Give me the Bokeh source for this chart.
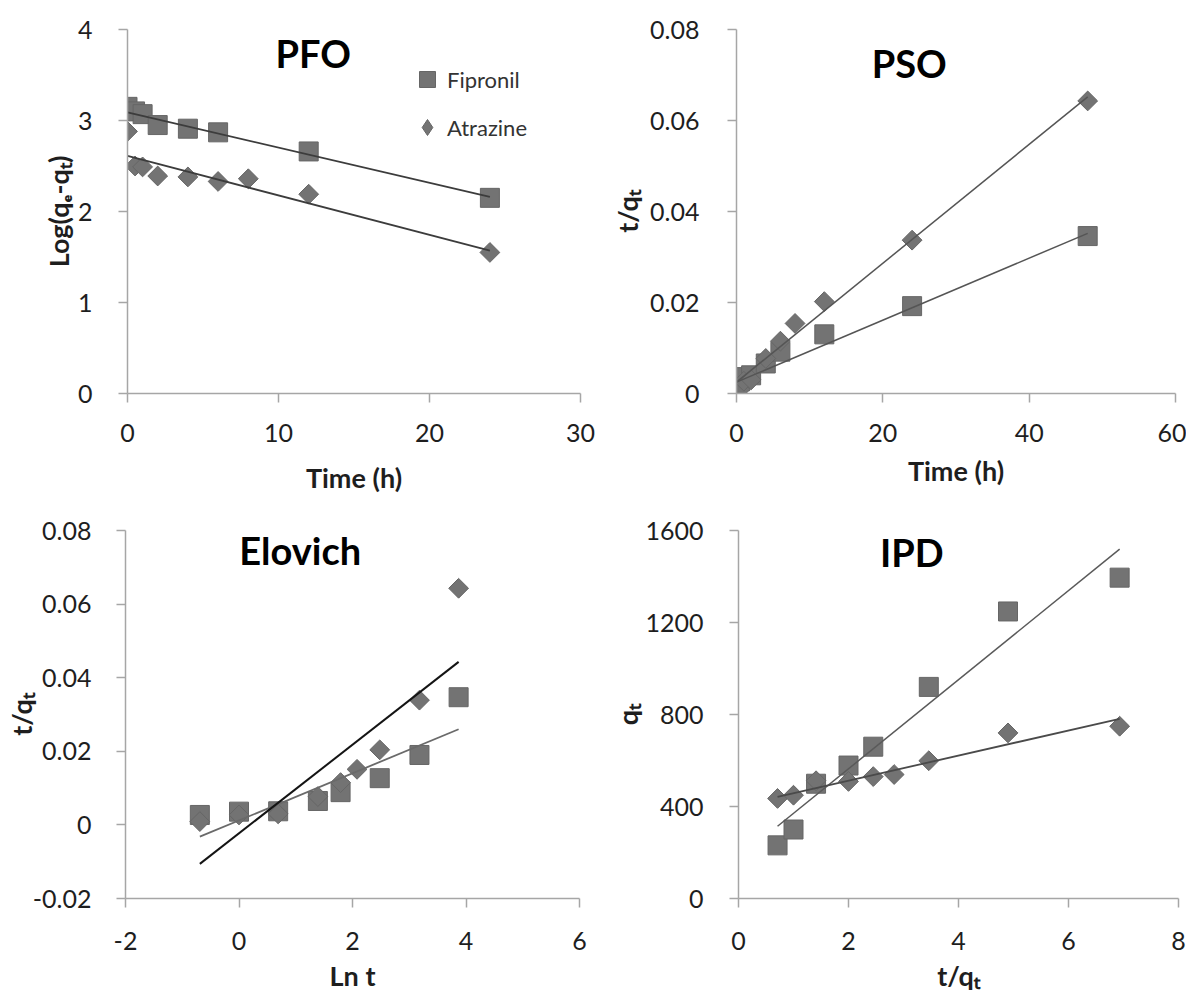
import math
from bokeh.plotting import figure
from bokeh.models import Range1d, FixedTicker, Label, Legend, LegendItem, CustomJSTickFormatter
from bokeh.layouts import column, row
from bokeh.embed import file_html
from bokeh.resources import INLINE

# ---------------- data ----------------
# PFO : Log(qe-qt) vs time (h)
pfo_t_fip = [0, 0.5, 1, 2, 4, 6, 12, 24]
pfo_fip = [3.15, 3.10, 3.07, 2.95, 2.91, 2.87, 2.66, 2.15]
pfo_t_atr = [0, 0.5, 1, 2, 4, 6, 8, 12, 24]
pfo_atr = [2.88, 2.50, 2.49, 2.39, 2.38, 2.33, 2.36, 2.19, 1.55]
pfo_fit_x = [0, 24]
pfo_fit_fip = [3.09, 2.16]
pfo_fit_atr = [2.61, 1.57]

# PSO : t/qt vs time (h)
pso_t_fip = [0, 0.5, 1, 2, 4, 6, 12, 24, 48]
pso_fip = [0.0, 0.0027, 0.0036, 0.0040, 0.0066, 0.0092, 0.0130, 0.0192, 0.0346]
pso_t_atr = [0, 0.5, 1, 2, 4, 6, 8, 12, 24, 48]
pso_atr = [0.0, 0.0009, 0.0027, 0.0030, 0.0077, 0.0115, 0.0154, 0.0202, 0.0337, 0.0643]
pso_fit_x = [0, 48]
pso_fit_fip = [0.0025, 0.0352]
pso_fit_atr = [0.0025, 0.0652]

# Elovich : t/qt vs ln t
elo_x_fip = [-0.69, 0.0, 0.69, 1.39, 1.79, 2.48, 3.18, 3.87]
elo_fip = [0.0027, 0.0036, 0.0037, 0.0065, 0.0089, 0.0127, 0.0190, 0.0347]
elo_x_atr = [-0.69, 0.0, 0.69, 1.39, 1.79, 2.08, 2.48, 3.18, 3.87]
elo_atr = [0.0009, 0.0027, 0.0030, 0.0077, 0.0115, 0.0151, 0.0204, 0.0339, 0.0643]
elo_fit_x = [-0.69, 3.87]
elo_fit_fip = [-0.0032, 0.0260]
elo_fit_atr = [-0.0106, 0.0443]

# IPD : qt vs t^0.5
ipd_x_fip = [0.71, 1.0, 1.41, 2.0, 2.45, 3.46, 4.90, 6.93]
ipd_fip = [231, 300, 499, 578, 660, 920, 1248, 1395]
ipd_x_atr = [0.71, 1.0, 1.41, 2.0, 2.45, 2.83, 3.46, 4.90, 6.93]
ipd_atr = [435, 449, 512, 509, 530, 539, 599, 720, 749]
ipd_fit_x = [0.71, 6.93]
ipd_fit_fip = [314, 1519]
ipd_fit_atr = [442, 781]

series_names = ["Fipronil", "Atrazine"]

# ---------------- styling ----------------
FONT = "Lato"
AXIS_COLOR = "#a6a6a6"
TEXT_COLOR = "#1e1e1e"
MARK_FILL = "#737373"
MARK_LINE = "#666666"

fmt = CustomJSTickFormatter(code="return String(Math.round(tick*10000)/10000);")


def make_fig(w, h, xr, yr, xticks, yticks, bl, br, bt, bb, xlabel, ylabel,
             xl_std, xt_std, yl_std, yt_std):
    p = figure(width=w, height=h, x_range=Range1d(*xr), y_range=Range1d(*yr),
               output_backend="svg", toolbar_location=None,
               min_border_left=bl, min_border_right=br,
               min_border_top=bt, min_border_bottom=bb)
    p.grid.visible = False
    p.outline_line_color = None
    p.background_fill_color = "white"
    p.border_fill_color = "white"
    p.xaxis.ticker = FixedTicker(ticks=xticks)
    p.yaxis.ticker = FixedTicker(ticks=yticks)
    p.yaxis.formatter = fmt
    p.xaxis.formatter = fmt
    p.xaxis.axis_label = xlabel
    p.yaxis.axis_label = ylabel
    for ax in (p.xaxis[0], p.yaxis[0]):
        ax.axis_line_color = AXIS_COLOR
        ax.axis_line_width = 1.5
        ax.major_tick_line_color = AXIS_COLOR
        ax.major_tick_line_width = 1.5
        ax.major_tick_out = 9
        ax.major_tick_in = 0
        ax.minor_tick_line_color = None
        ax.major_label_text_font = FONT
        ax.major_label_text_font_size = "25px"
        ax.major_label_text_color = TEXT_COLOR
        ax.axis_label_text_font = FONT
        ax.axis_label_text_font_style = "bold"
        ax.axis_label_text_font_size = "27px"
        ax.axis_label_text_color = TEXT_COLOR
    p.xaxis.major_label_standoff = xl_std
    p.xaxis.axis_label_standoff = xt_std
    p.yaxis.major_label_standoff = yl_std
    p.yaxis.axis_label_standoff = yt_std
    return p


def add_series(p, xf, yf, xa, ya, fx, ffy, fay, fip_line, atr_line, lw_f, lw_a):
    rf = p.scatter(xf, yf, marker="square", size=19, fill_color=MARK_FILL,
                   line_color=MARK_LINE, line_width=1)
    ra = p.scatter(xa, ya, marker="square", angle=math.pi / 4, size=14,
                   fill_color=MARK_FILL, line_color=MARK_LINE, line_width=1)
    p.line(fx, ffy, line_color=fip_line, line_width=lw_f)
    p.line(fx, fay, line_color=atr_line, line_width=lw_a)
    return rf, ra


def add_title(p, x, y, text):
    p.add_layout(Label(x=x, y=y, text=text, text_font=FONT, text_font_size="38px",
                       text_font_style="bold", text_color="black",
                       text_align="center", text_baseline="middle"))


NAN = float("nan")

# PFO (top-left): frame x 127..580, y 28..394
p1 = make_fig(608, 508, (0, 30), (0, 4), [0, 10, 20, 30], [0, 1, 2, 3, 4],
              127, 28, 28, 114, "Time (h)", "Log(qₑ-qₜ)", 21, 16, 26, 0)
rf, ra = add_series(p1, pfo_t_fip, pfo_fip, pfo_t_atr, pfo_atr, pfo_fit_x,
                    pfo_fit_fip, pfo_fit_atr, "#3c3c3c", "#3c3c3c", 1.8, 1.8)
add_title(p1, 12.3, 3.74, "PFO")
# key-only renderers: one undrawable (NaN) point each, so the legend shows the symbols
lf = p1.scatter([NAN], [NAN], marker="square", fill_color=MARK_FILL, line_color=MARK_LINE)
la = p1.scatter([NAN], [NAN], marker="diamond", fill_color=MARK_FILL, line_color=MARK_LINE)
leg = Legend(items=[LegendItem(label=series_names[0], renderers=[lf]),
                    LegendItem(label=series_names[1], renderers=[la])],
             location=(280, 245), orientation="vertical",
             glyph_width=40, glyph_height=42, spacing=6, padding=0, margin=0,
             label_standoff=0, label_text_font=FONT, label_text_font_size="22px",
             label_text_color="#333333", border_line_color=None,
             background_fill_alpha=0)
p1.add_layout(leg)

# PSO (top-right): frame x 736..1175, y 29..393
p2 = make_fig(578, 508, (0, 60), (0, 0.08), [0, 20, 40, 60], [0, 0.02, 0.04, 0.06, 0.08],
              128, 11, 29, 115, "Time (h)", "t/qₜ", 21, 9, 28, 3)
add_series(p2, pso_t_fip, pso_fip, pso_t_atr, pso_atr, pso_fit_x,
           pso_fit_fip, pso_fit_atr, "#555555", "#555555", 1.5, 1.5)
add_title(p2, 23.6, 0.0727, "PSO")

# Elovich (bottom-left): frame x 125..579, y 530..900
p3 = make_fig(608, 486, (-2, 6), (-0.02, 0.08), [-2, 0, 2, 4, 6],
              [-0.02, 0, 0.02, 0.04, 0.06, 0.08],
              125, 29, 22, 94, "Ln t", "t/qₜ", 24, 6, 25, -8)
add_series(p3, elo_x_fip, elo_fip, elo_x_atr, elo_atr, elo_fit_x,
           elo_fit_fip, elo_fit_atr, "#6a6a6a", "#141414", 1.8, 2.0)
add_title(p3, 1.08, 0.0746, "Elovich")

# IPD (bottom-right): frame x 737..1178, y 526..900
p4 = make_fig(578, 486, (0, 8), (0, 1600), [0, 2, 4, 6, 8], [0, 400, 800, 1200, 1600],
              129, 8, 18, 94, "t/qₜ", "qₜ", 24, 6, 26, -2)
add_series(p4, ipd_x_fip, ipd_fip, ipd_x_atr, ipd_atr, ipd_fit_x,
           ipd_fit_fip, ipd_fit_atr, "#5a5a5a", "#4a4a4a", 1.5, 1.8)
add_title(p4, 3.15, 1506, "IPD")

layout = column(row(p1, p2), row(p3, p4))
open("out.html", "w").write(file_html(layout, INLINE))
